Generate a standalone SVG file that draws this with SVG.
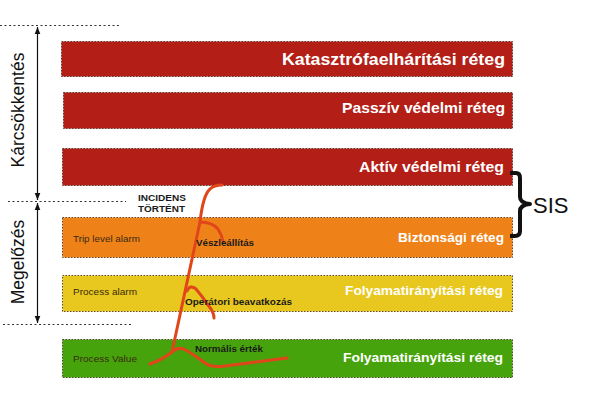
<svg xmlns="http://www.w3.org/2000/svg" width="599" height="418" viewBox="0 0 599 418">
<style>
.bar{stroke:#3a2a20;stroke-width:0.8;stroke-dasharray:1.5 1.5}
.lbl{font-family:"Liberation Sans",Arial,sans-serif;font-weight:bold;fill:#ffffff;text-anchor:end}
.small{font-family:"Liberation Sans",Arial,sans-serif;font-size:9.5px;fill:#3a2a10}
.cur{font-family:"Liberation Sans",Arial,sans-serif;font-size:9.5px;font-weight:bold;fill:#1a1a1a}
.guide{stroke:#333;stroke-width:1;stroke-dasharray:2 2.5;fill:none}
.side{font-family:"Liberation Sans",Arial,sans-serif;font-size:17.5px;fill:#111;text-anchor:middle}
</style>
<defs>
<marker id="ah" viewBox="0 0 10 10" refX="10" refY="5" markerWidth="7" markerHeight="7" orient="auto-start-reverse" markerUnits="userSpaceOnUse">
<path d="M0,1 L10,5 L0,9 Z" fill="#111"/>
</marker>
</defs>
<rect width="599" height="418" fill="#ffffff"/>

<g id="guides">
<line class="guide" x1="0" y1="25.5" x2="120" y2="25.5"/>
<line class="guide" x1="8" y1="201.5" x2="126" y2="201.5"/>
<line class="guide" x1="3" y1="324.5" x2="132" y2="324.5"/>
<line x1="37.5" y1="200" x2="37.5" y2="27" stroke="#111" stroke-width="1.2" marker-start="url(#ah)" marker-end="url(#ah)"/>
<line x1="37.5" y1="323" x2="37.5" y2="203" stroke="#111" stroke-width="1.2" marker-start="url(#ah)" marker-end="url(#ah)"/>
<text class="side" transform="translate(24,110) rotate(-90)">Kárcsökkentés</text>
<text class="side" transform="translate(24,262) rotate(-90)">Megelőzés</text>
</g>

<g id="layer-katasztrofa">
<rect class="bar" x="61.5" y="41.5" width="451" height="35" fill="#b31e16"/>
<text class="lbl" x="505" y="65" font-size="17" textLength="223" lengthAdjust="spacingAndGlyphs">Katasztrófaelhárítási réteg</text>
</g>
<g id="layer-passziv">
<rect class="bar" x="63.5" y="92.5" width="449" height="36" fill="#b31e16"/>
<text class="lbl" x="505" y="113" font-size="15.5" textLength="163" lengthAdjust="spacingAndGlyphs">Passzív védelmi réteg</text>
</g>
<g id="layer-aktiv">
<rect class="bar" x="62.5" y="148.5" width="450" height="37" fill="#b31e16"/>
<text class="lbl" x="504" y="172" font-size="15.5" textLength="145" lengthAdjust="spacingAndGlyphs">Aktív védelmi réteg</text>
</g>
<g id="layer-biztonsagi">
<rect class="bar" x="62.5" y="217.5" width="450" height="40" fill="#ef8119"/>
<text class="lbl" x="504" y="242" font-size="13.5" textLength="106" lengthAdjust="spacingAndGlyphs">Biztonsági réteg</text>
<text class="small" x="73" y="242" textLength="67" lengthAdjust="spacingAndGlyphs">Trip level alarm</text>
</g>
<g id="layer-folyamat1">
<rect class="bar" x="62.5" y="275.5" width="450" height="36" fill="#e8c81e"/>
<text class="lbl" x="503" y="295" font-size="13.5" textLength="158" lengthAdjust="spacingAndGlyphs">Folyamatirányítási réteg</text>
<text class="small" x="73" y="295" textLength="64" lengthAdjust="spacingAndGlyphs">Process alarm</text>
</g>
<g id="layer-folyamat2">
<rect class="bar" x="62.5" y="339.5" width="450" height="38" fill="#47a30c"/>
<text class="lbl" x="503" y="362" font-size="13.5" textLength="160" lengthAdjust="spacingAndGlyphs">Folyamatirányítási réteg</text>
<text class="small" x="73" y="362" fill="#1f3a10" textLength="64" lengthAdjust="spacingAndGlyphs">Process Value</text>
</g>

<g id="sis">
<path d="M510,173 L516,173 Q520,173 520,178 L520,197 Q520,203 530,204 Q520,205 520,211 L520,231 Q520,236 515,236 L510,236" fill="none" stroke="#111" stroke-width="4" stroke-linejoin="round"/>
<text x="533" y="213" font-family="'Liberation Sans',Arial,sans-serif" font-size="22" fill="#111">SIS</text>
</g>

<g id="connectors">
<path d="M150,364 Q162,360 172,352 L200,222 Q203,195 210,189 Q214,185 222,185" fill="none" stroke="#e0461a" stroke-width="3" stroke-linecap="round" stroke-linejoin="round"/>
<path d="M200,222 Q212,222 218,229 Q222,235 223,242" fill="none" stroke="#e0461a" stroke-width="3" stroke-linecap="round"/>
<path d="M187,291 Q190,284 196,289 Q202,296 208,305 Q214,312 214,318" fill="none" stroke="#e0461a" stroke-width="3" stroke-linecap="round"/>
<path d="M172,352 Q178,346 186,350 Q196,356 205,363 Q212,368 225,366 L287,358" fill="none" stroke="#e0461a" stroke-width="3" stroke-linecap="round" stroke-linejoin="round"/>
</g>

<g id="annotations">
<text class="cur" x="138" y="201" font-size="8.5" textLength="48" lengthAdjust="spacingAndGlyphs">INCIDENS</text>
<text class="cur" x="138" y="212" font-size="8.5" textLength="47" lengthAdjust="spacingAndGlyphs">TÖRTÉNT</text>
<text class="cur" x="196" y="246" textLength="58" lengthAdjust="spacingAndGlyphs">Vészleállítás</text>
<text class="cur" x="185" y="305" textLength="107" lengthAdjust="spacingAndGlyphs">Operátori beavatkozás</text>
<text class="cur" x="195" y="352" textLength="68" lengthAdjust="spacingAndGlyphs">Normális érték</text>
</g>
</svg>
